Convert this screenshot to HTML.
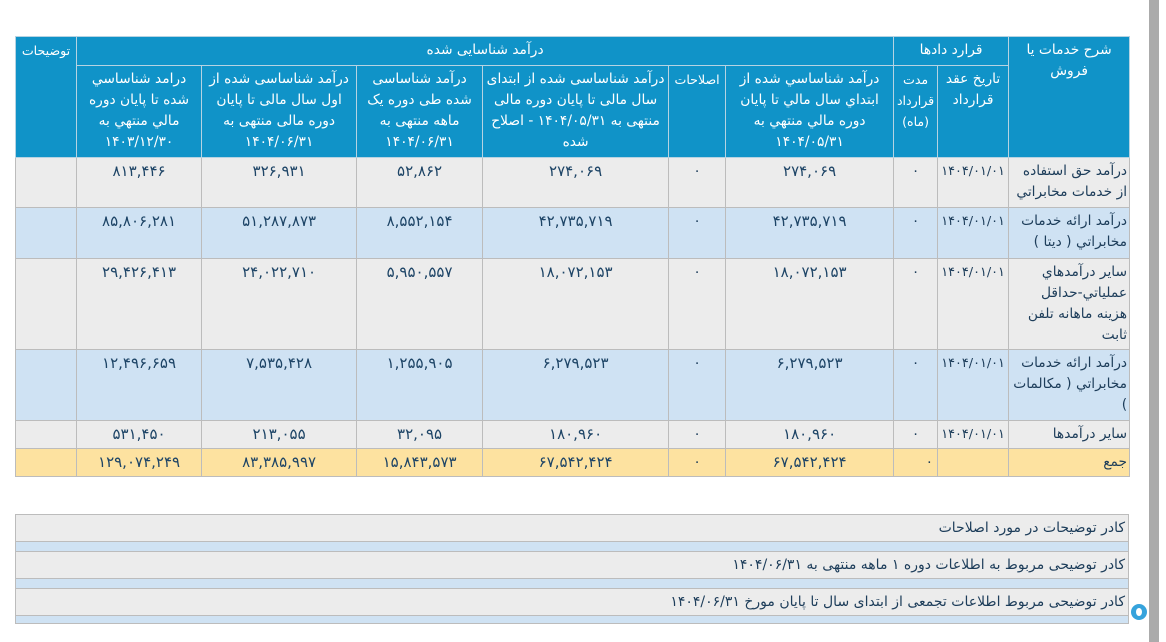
<!DOCTYPE html>
<html lang="fa">
<head>
<meta charset="utf-8">
<style>
  html,body{margin:0;padding:0;background:#fff;}
  body{width:1166px;height:642px;position:relative;overflow:hidden;
       font-family:"DejaVu Sans","Liberation Sans",sans-serif;}
  .sb{position:absolute;left:1149px;top:0;width:10px;height:642px;background:#ababab;}
  table.main{position:absolute;left:15px;top:36px;width:1114px;border-collapse:collapse;
       table-layout:fixed;direction:rtl;font-size:13.8px;line-height:21px;}
  table.main td, table.main th{padding:3px 3px 0 3px;vertical-align:top;overflow:hidden;white-space:nowrap;}
  table.main th{background:#1093c8;color:#fff;font-weight:normal;text-align:center;border:1px solid #b6d3e2;font-size:13.8px;}
  table.main th.sm{font-size:12.6px;padding:3px 1px 0 1px;}
  table.main td{border:1px solid #bcbcbc;color:#1d3d5a;text-align:center;}
  table.main td.lbl{text-align:right;padding-right:2px;padding-left:1px;}
  table.main td.n{font-size:15px;letter-spacing:1px;color:#1d4466;}
  table.main td.d{font-size:12.8px;padding:3px 1px 0 1px;}
  tr.g td{background:#ececec;}
  tr.b td{background:#cfe2f3;}
  tr.y td{background:#fde2a0;}
  .notes{position:absolute;left:15px;top:514px;width:1114px;direction:rtl;font-size:14px;color:#1d3d5a;}
  .notes .gr{height:28px;background:#ececec;border:1px solid #bcbcbc;box-sizing:border-box;
       line-height:26px;padding-right:3px;white-space:nowrap;}
  .notes .bl{height:9px;background:#cfe2f3;border-left:1px solid #bcbcbc;border-right:1px solid #bcbcbc;box-sizing:border-box;}
  .wm{position:absolute;left:1131px;top:604px;width:16px;height:16px;border-radius:50%;background:#36a3dc;}
  .wm:after{content:"";position:absolute;left:5px;top:4px;width:6px;height:8px;border-radius:50%;background:#fff;}
</style>
</head>
<body>
<div class="sb"></div>
<table class="main">
  <colgroup>
    <col style="width:121px"><col style="width:71px"><col style="width:44px"><col style="width:168px">
    <col style="width:57px"><col style="width:186px"><col style="width:126px"><col style="width:155px">
    <col style="width:125px"><col style="width:61px">
  </colgroup>
  <tr style="height:29px">
    <th rowspan="2">شرح خدمات يا<br>فروش</th>
    <th colspan="2">قرارد دادها</th>
    <th colspan="6">درآمد شناسایی شده</th>
    <th rowspan="2" class="sm">توضیحات</th>
  </tr>
  <tr style="height:92px">
    <th>تاريخ عقد<br>قرارداد</th>
    <th class="sm">مدت<br>قرارداد<br>(ماه)</th>
    <th>درآمد شناساسي شده از<br>ابتداي سال مالي تا پايان<br>دوره مالي منتهي به<br>۱۴۰۴/۰۵/۳۱</th>
    <th class="sm">اصلاحات</th>
    <th>درآمد شناساسی شده از ابتدای<br>سال مالی تا پایان دوره مالی<br>منتهی به ۱۴۰۴/۰۵/۳۱ - اصلاح<br>شده</th>
    <th>درآمد شناساسی<br>شده طی دوره یک<br>ماهه منتهی به<br>۱۴۰۴/۰۶/۳۱</th>
    <th>درآمد شناساسی شده از<br>اول سال مالی تا پایان<br>دوره مالی منتهی به<br>۱۴۰۴/۰۶/۳۱</th>
    <th>درامد شناساسي<br>شده تا پايان دوره<br>مالي منتهي به<br>۱۴۰۳/۱۲/۳۰</th>
  </tr>
  <tr class="g" style="height:50px">
    <td class="lbl">درآمد حق استفاده<br>از خدمات مخابراتي</td>
    <td class="d">۱۴۰۴/۰۱/۰۱</td><td>۰</td><td class="n">۲۷۴,۰۶۹</td><td>۰</td><td class="n">۲۷۴,۰۶۹</td>
    <td class="n">۵۲,۸۶۲</td><td class="n">۳۲۶,۹۳۱</td><td class="n">۸۱۳,۴۴۶</td><td></td>
  </tr>
  <tr class="b" style="height:51px">
    <td class="lbl">درآمد ارائه خدمات<br>مخابراتي ( ديتا )</td>
    <td class="d">۱۴۰۴/۰۱/۰۱</td><td>۰</td><td class="n">۴۲,۷۳۵,۷۱۹</td><td>۰</td><td class="n">۴۲,۷۳۵,۷۱۹</td>
    <td class="n">۸,۵۵۲,۱۵۴</td><td class="n">۵۱,۲۸۷,۸۷۳</td><td class="n">۸۵,۸۰۶,۲۸۱</td><td></td>
  </tr>
  <tr class="g" style="height:91px">
    <td class="lbl">ساير درآمدهاي<br>عملياتي-حداقل<br>هزينه ماهانه تلفن<br>ثابت</td>
    <td class="d">۱۴۰۴/۰۱/۰۱</td><td>۰</td><td class="n">۱۸,۰۷۲,۱۵۳</td><td>۰</td><td class="n">۱۸,۰۷۲,۱۵۳</td>
    <td class="n">۵,۹۵۰,۵۵۷</td><td class="n">۲۴,۰۲۲,۷۱۰</td><td class="n">۲۹,۴۲۶,۴۱۳</td><td></td>
  </tr>
  <tr class="b" style="height:71px">
    <td class="lbl">درآمد ارائه خدمات<br>مخابراتي ( مكالمات<br>)</td>
    <td class="d">۱۴۰۴/۰۱/۰۱</td><td>۰</td><td class="n">۶,۲۷۹,۵۲۳</td><td>۰</td><td class="n">۶,۲۷۹,۵۲۳</td>
    <td class="n">۱,۲۵۵,۹۰۵</td><td class="n">۷,۵۳۵,۴۲۸</td><td class="n">۱۲,۴۹۶,۶۵۹</td><td></td>
  </tr>
  <tr class="g" style="height:28px">
    <td class="lbl">ساير درآمدها</td>
    <td class="d">۱۴۰۴/۰۱/۰۱</td><td>۰</td><td class="n">۱۸۰,۹۶۰</td><td>۰</td><td class="n">۱۸۰,۹۶۰</td>
    <td class="n">۳۲,۰۹۵</td><td class="n">۲۱۳,۰۵۵</td><td class="n">۵۳۱,۴۵۰</td><td></td>
  </tr>
  <tr class="y" style="height:28px">
    <td class="lbl">جمع</td>
    <td></td><td style="text-align:right;padding-right:4px">۰</td><td class="n">۶۷,۵۴۲,۴۲۴</td><td>۰</td><td class="n">۶۷,۵۴۲,۴۲۴</td>
    <td class="n">۱۵,۸۴۳,۵۷۳</td><td class="n">۸۳,۳۸۵,۹۹۷</td><td class="n">۱۲۹,۰۷۴,۲۴۹</td><td></td>
  </tr>
</table>

<div class="notes">
  <div class="gr">کادر توضیحات در مورد اصلاحات</div>
  <div class="bl"></div>
  <div class="gr">کادر توضیحی مربوط به اطلاعات دوره ۱ ماهه منتهی به ۱۴۰۴/۰۶/۳۱</div>
  <div class="bl"></div>
  <div class="gr">کادر توضیحی مربوط اطلاعات تجمعی از ابتدای سال تا پایان مورخ ۱۴۰۴/۰۶/۳۱</div>
  <div class="bl" style="height:8px;border-bottom:1px solid #bcbcbc"></div>
</div>
<div class="wm"></div>
</body>
</html>
